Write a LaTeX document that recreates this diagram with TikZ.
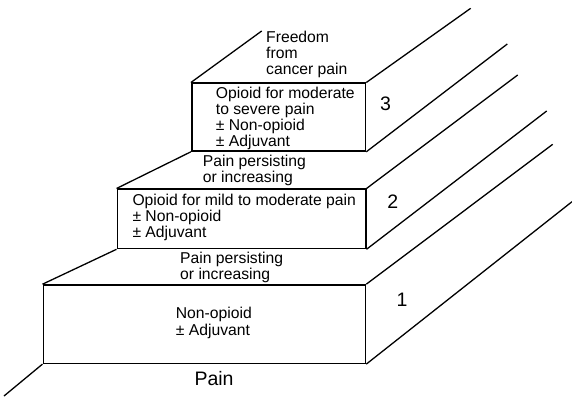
\documentclass[tikz,border=0pt]{standalone}
\usepackage{fontspec}
\setmainfont{Liberation Sans}
\usepackage{tikz}
\usetikzlibrary{calc,positioning}

\begin{document}
\begin{tikzpicture}[x=1pt,y=1pt,
  stepbox/.style={draw, line width=1.6pt, rectangle, inner sep=0pt},
  steptext/.style={anchor=base west, inner sep=0pt, align=left, font=\fontsize{15.7}{16}\selectfont},
  stepnum/.style={inner sep=0pt, font=\fontsize{19.5}{20}\selectfont},
  rail/.style={line width=1.3pt}]
  \useasboundingbox (0,0) rectangle (572,396);

  % Front faces of the steps
  \node[stepbox, minimum width=322.2pt, minimum height=78.3pt] (s1) at (204.4,71.85) {};
  \node[stepbox, minimum width=248.4pt, minimum height=59.2pt] (s2) at (241.5,177.1) {};
  \node[stepbox, minimum width=173.8pt, minimum height=67.7pt] (s3) at (278.6,278.85) {};

  % Far ends of the rails
  \coordinate (b0) at (4,0);
  \coordinate (b3) at (261.7,365);
  \coordinate (e3t) at (470.7,387.7);
  \coordinate (e3b) at (507.3,352);
  \coordinate (e2t) at (517.7,321);
  \coordinate (e2b) at (546.7,285);
  \coordinate (e1t) at (552.7,251.7);
  \coordinate (e1b) at (572,194.3);

  % Treads on the left
  \draw[rail] (s1.south west) -- (b0);
  \draw[rail] (s1.north west) -- (s2.south west);
  \draw[rail] (s2.north west) -- (s3.south west);
  \draw[rail] (s3.north west) -- (b3);

  % Rails on the right
  \draw[rail] (s3.north east) -- (e3t);
  \draw[rail] (s3.south east) -- (e3b);
  \draw[rail] (s2.north east) -- (e2t);
  \draw[rail] (s2.south east) -- (e2b);
  \draw[rail] (s1.north east) -- (e1t);
  \draw[rail] (s1.south east) -- (e1b);

  % Texts (placed by the baseline of their last line)
  \node[steptext] (free) at (266,321) {Freedom\\from\\cancer pain};
  \node[steptext] (t3) at (215.7,249.3) {Opioid for moderate\\to severe pain\\± Non-opioid\\± Adjuvant};
  \node[steptext] (p2) at (202.7,213.5) {Pain persisting\\or increasing};
  \node[steptext] (t2) at (132.3,158.7) {Opioid for mild to moderate pain\\± Non-opioid\\± Adjuvant};
  \node[steptext] (p1) at (180,116) {Pain persisting\\or increasing};
  \node[steptext] (t1) at (175.7,61) {Non-opioid\\± Adjuvant};
  \node[steptext, font=\fontsize{19.5}{20}\selectfont] (pain) at (194.3,11) {Pain};

  % Step numbers
  \node[stepnum] (n3) at (385.5,292) {3};
  \node[stepnum] (n2) at (392.8,194.3) {2};
  \node[stepnum] (n1) at (402,96) {1};
\end{tikzpicture}
\end{document}
